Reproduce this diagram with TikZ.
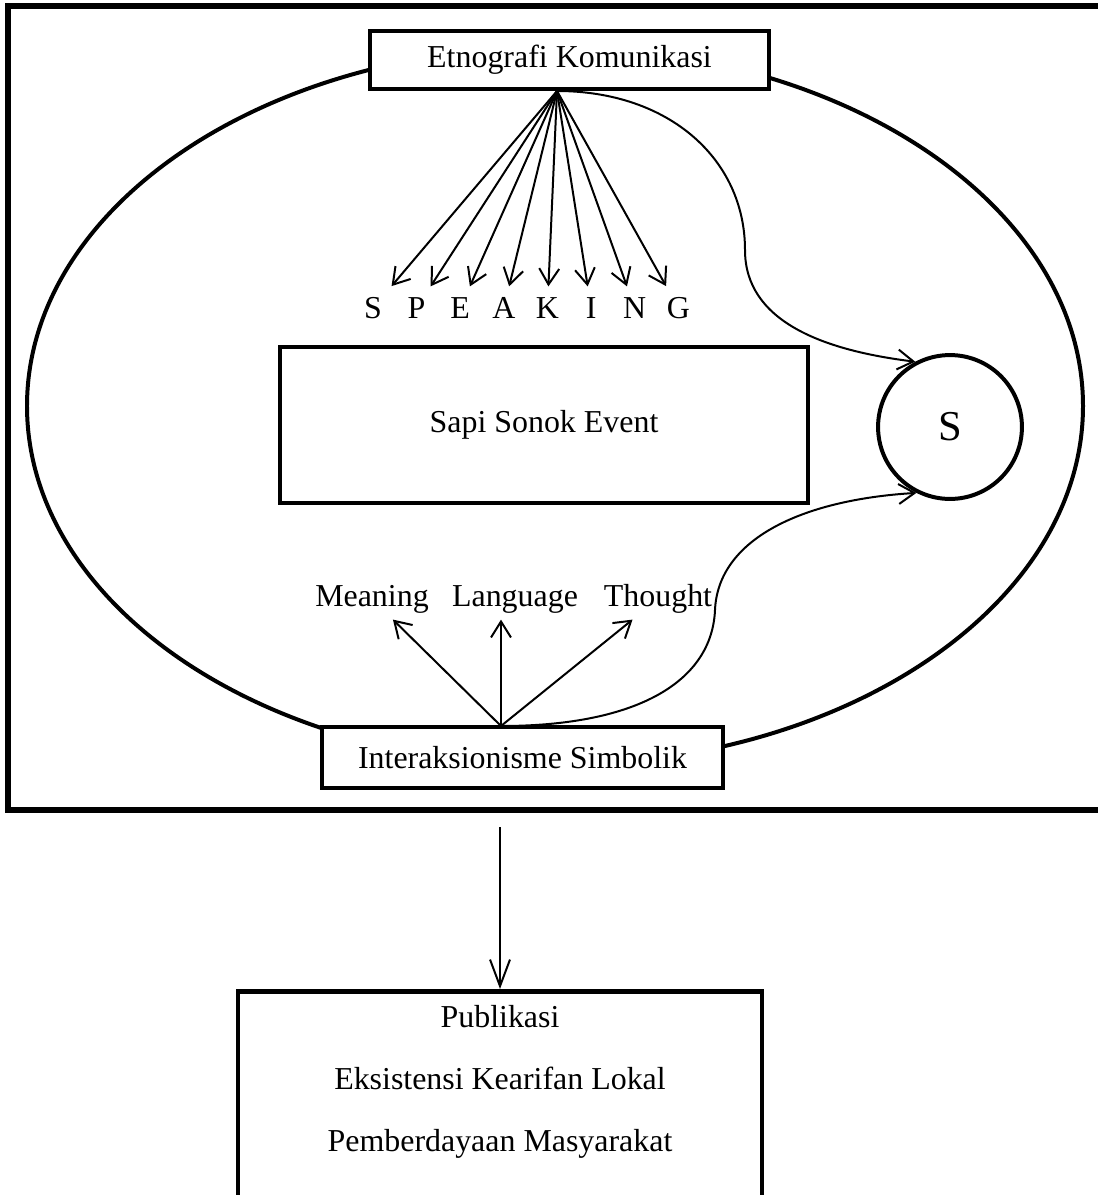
\documentclass[tikz,border=0pt]{standalone}
\usepackage{fontspec}
\setmainfont{Liberation Serif}
\usetikzlibrary{arrows.meta,positioning}

\begin{document}
\begin{tikzpicture}[x=0.376pt, y=-0.376pt, node distance=16.4pt,
  font=\fontsize{12}{14.4}\selectfont,
  box/.style={draw, line width=1.7pt, fill=white, inner sep=0pt},
  letter/.style={inner sep=4pt},
  word/.style={inner sep=2pt, text height=8.5pt, text depth=2.6pt},
  thin/.style={line width=0.75pt, -{Straight Barb[length=6pt,width=7.5pt]}}]
\useasboundingbox (0,0) rectangle (1097,1195);

% frame and ellipse
\draw[line width=1.9pt] (8,6) rectangle (1110,810);
\draw[line width=1.5pt] (555,406) ellipse [x radius=528, y radius=359];

\node[box, minimum width=150pt, minimum height=21.8pt] (ek)  at (569.5,60)  {Etnografi Komunikasi};
\node[box, minimum width=150.8pt, minimum height=22.9pt] (is) at (522.5,757.5) {Interaksionisme Simbolik};
\node[box, minimum width=198.5pt, minimum height=58.7pt] (sse) at (544,425) {Sapi Sonok Event};
\node[box, circle, line width=1.5pt, minimum size=54.1pt, font=\fontsize{16}{19}\selectfont] (sc) at (950,427) {S};

% SPEAKING
\node[letter]             (s) at (373,308) {S};
\node[letter, right of=s] (p) {P};
\node[letter, right of=p] (e) {E};
\node[letter, right of=e] (a) {A};
\node[letter, right of=a] (k) {K};
\node[letter, right of=k] (i) {I};
\node[letter, right of=i] (n) {N};
\node[letter, right of=n] (g) {G};

\node[word] (mn) at (372,599) {Meaning};
\node[word] (lg) at (515,599) {Language};
\node[word] (th) at (658,599) {Thought};

\coordinate (fan)  at (557,91);
\coordinate (root) at (501,726);
\coordinate (drop) at (500,827);

\path[thin]
(fan)  edge (s) edge (p) edge (e) edge (a)
       edge (k) edge (i) edge (n) edge (g)
(root) edge (mn)
       edge (lg.south -| root)
       edge (th)
;
\draw[thin] (fan) .. controls (670,91) and (745,160) .. (745,250)
                  .. controls (745,320) and (820,350) .. (sc.118);
\draw[thin] (root) .. controls (640,726) and (712,680) .. (715,610)
                   .. controls (718,540) and (800,500) .. (sc.243);

% output box
\node[box, anchor=north, minimum width=197pt, minimum height=86.9pt] (pub) at (500,989) {};
\draw[thin, -{Straight Barb[length=10pt,width=7.5pt]}] (drop) -- (pub);
\node[word]                                       (pb1) at (500,1020) {Publikasi};
\node[word, below of=pb1, node distance=23.3pt]   (pb2) {Eksistensi Kearifan Lokal};
\node[word, below of=pb2, node distance=23.3pt]   (pb3) {Pemberdayaan Masyarakat};
\end{tikzpicture}
\end{document}
